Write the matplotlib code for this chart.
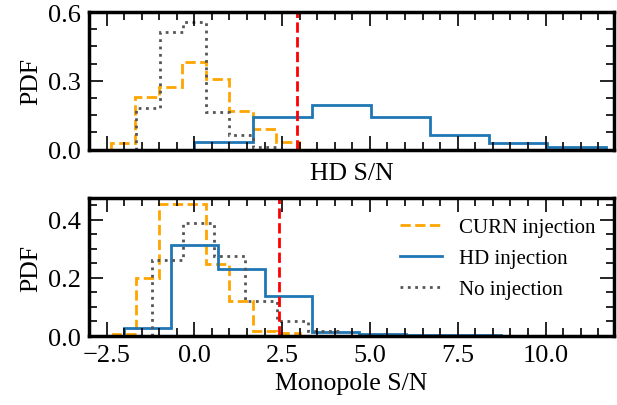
import matplotlib
matplotlib.use('Agg')
import matplotlib.pyplot as plt
from matplotlib.ticker import AutoMinorLocator
from matplotlib.lines import Line2D

plt.rcParams['font.family'] = ['Liberation Serif', 'DejaVu Serif']
plt.rcParams['axes.unicode_minus'] = True

# top panel (HD S/N)
hd_curn_edges = [-2.36, -1.69, -1.02, -0.35, 0.32, 0.99, 1.66, 2.33, 2.99]
hd_curn_pdf = [0.027, 0.228, 0.273, 0.381, 0.307, 0.167, 0.091, 0.033]
hd_hd_edges = [0.0, 1.68, 3.35, 5.03, 6.70, 8.38, 10.05, 11.73]
hd_hd_pdf = [0.033, 0.143, 0.196, 0.143, 0.064, 0.030, 0.009]
hd_none_edges = [-1.66, -0.98, -0.31, 0.33, 1.00, 1.66, 2.33]
hd_none_pdf = [0.182, 0.514, 0.557, 0.165, 0.064, 0.013]
hd_threshold = 2.93

# bottom panel (Monopole S/N)
mono_curn_edges = [-2.33, -1.66, -1.0, -0.33, 0.33, 1.0, 1.66, 2.33, 3.0]
mono_curn_pdf = [0.008, 0.198, 0.452, 0.452, 0.248, 0.12, 0.016, 0.01]
mono_hd_edges = [-2.01, -0.66, 0.68, 2.01, 3.35, 4.70, 6.04, 7.38, 8.72]
mono_hd_pdf = [0.027, 0.311, 0.231, 0.136, 0.015, 0.008, 0.003, 0.003]
mono_none_edges = [-1.22, -0.33, 0.56, 1.45, 2.34, 3.23, 4.12]
mono_none_pdf = [0.261, 0.389, 0.275, 0.12, 0.053, 0.018]
mono_threshold = 2.40

labels = ["CURN injection", "HD injection", "No injection"]
c_curn = "orange"
c_hd = "#1f77b4"
c_none = "#555555"

fig, (ax1, ax2) = plt.subplots(2, 1, sharex=True, figsize=(6.17, 4.06), dpi=100)
fig.subplots_adjust(left=89/617, right=614/617, top=1-13/406, bottom=1-337/406, hspace=0.356)


def draw(ax, curn, hd, none, thr):
    ax.stairs(curn[1], curn[0], color=c_curn, ls='--', lw=2)
    ax.stairs(hd[1], hd[0], color=c_hd, ls='-', lw=2)
    ax.stairs(none[1], none[0], color=c_none, ls=':', lw=2)
    ax.axvline(thr, color='red', ls='--', lw=2)
    ax.set_ylabel("PDF", fontsize=18.5)
    ax.tick_params(which='both', direction='in', top=True, right=True, labelsize=19, pad=6)
    ax.tick_params(which='major', length=10, width=1.2)
    ax.tick_params(which='minor', length=5.5, width=1.2)
    ax.xaxis.set_minor_locator(AutoMinorLocator())
    ax.yaxis.set_minor_locator(AutoMinorLocator())
    for s in ax.spines.values():
        s.set_linewidth(2.5)


draw(ax1, (hd_curn_edges, hd_curn_pdf), (hd_hd_edges, hd_hd_pdf),
     (hd_none_edges, hd_none_pdf), hd_threshold)
draw(ax2, (mono_curn_edges, mono_curn_pdf), (mono_hd_edges, mono_hd_pdf),
     (mono_none_edges, mono_none_pdf), mono_threshold)

ax1.set_xlim(-3.0, 11.95)
ax1.set_ylim(0, 0.6)
ax1.set_yticks([0.0, 0.3, 0.6])
ax2.set_ylim(0, 0.4725)
ax2.set_yticks([0.0, 0.2, 0.4])
ax1.tick_params(labelbottom=False)
ax1.set_xlabel("HD S/N", fontsize=18.5, labelpad=9)
ax2.set_xlabel("Monopole S/N", fontsize=18.5)

handles = [Line2D([], [], color=c_curn, ls='--', lw=2),
           Line2D([], [], color=c_hd, ls='-', lw=2),
           Line2D([], [], color=c_none, ls=':', lw=2)]
ax2.legend(handles, labels, loc='upper right', frameon=False, fontsize=15,
           labelspacing=0.55)

fig.savefig("out.png", dpi=100)
